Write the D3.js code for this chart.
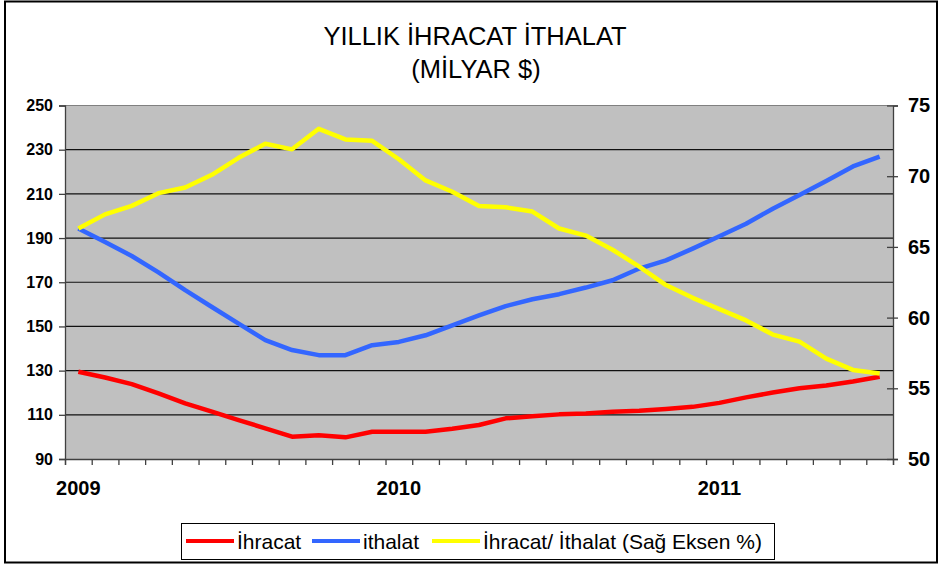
<!DOCTYPE html>
<html>
<head>
<meta charset="utf-8">
<script src="https://cdn.jsdelivr.net/npm/d3@7"></script>
<style>
    body { margin: 0; background: #fff; }
    text { font-family: "Liberation Sans", Arial, sans-serif; }
</style>
</head>
<body>
<div id="chart-area"></div>
<script>

// months Jan 2009 .. Jul 2011
let months = [];
for (let y = 2009; y <= 2011; y++) {
    for (let m = 1; m <= 12; m++) {
        if (y === 2011 && m > 7) break;
        months.push(y + "-" + (m < 10 ? "0" + m : m));
    }
}

let yearLabels = ["2009", "2010", "2011"];
let leftTicks = [90, 110, 130, 150, 170, 190, 210, 230, 250];
let rightTicks = [50, 55, 60, 65, 70, 75];

let ihracat = [129.5, 126.9, 123.9, 119.7, 115.2, 111.4, 107.6, 103.9, 100.1, 100.8, 99.8,
    102.3, 102.3, 102.3, 103.7, 105.4, 108.4, 109.4, 110.2, 110.6, 111.4, 111.8, 112.6,
    113.6, 115.4, 117.9, 120.1, 122.0, 123.3, 125.1, 127.2];

let ithalat = [194.3, 188.2, 181.9, 174.5, 166.4, 158.8, 151.3, 143.8, 139.3, 137.0, 137.0,
    141.5, 143.0, 146.0, 150.5, 155.0, 159.2, 162.3, 164.6, 167.6, 170.9, 176.2, 179.9,
    185.2, 190.8, 196.5, 203.3, 209.5, 215.8, 222.4, 226.9];

let oran = [66.3, 67.3, 67.9, 68.8, 69.2, 70.1, 71.3, 72.3, 71.9, 73.35, 72.6, 72.5, 71.2,
    69.7, 68.9, 67.9, 67.8, 67.5, 66.3, 65.8, 64.8, 63.6, 62.3, 61.4, 60.6, 59.8, 58.8,
    58.3, 57.1, 56.3, 56.05];

let legendNames = ["İhracat", "ithalat", "İhracat/ İthalat (Sağ Eksen %)"];
let colors = ["#ff0000", "#3366ff", "#ffff00"];


class TradeChart {

    constructor(parentElement) {
        this.parentElement = parentElement;
        this.initVis();
    }

    initVis() {
        let vis = this;
        vis.totalWidth = 941;
        vis.totalHeight = 566;
        vis.margin = {top: 105.5, right: 48, bottom: 107, left: 65};
        vis.width = vis.totalWidth - vis.margin.left - vis.margin.right;
        vis.height = vis.totalHeight - vis.margin.top - vis.margin.bottom;

        vis.root = d3.select("#" + vis.parentElement).append("svg")
            .attr("width", vis.totalWidth)
            .attr("height", vis.totalHeight);

        // outer frame
        vis.root.append("rect")
            .attr("x", 5).attr("y", 1.5)
            .attr("width", 932).attr("height", 561)
            .attr("fill", "#fff")
            .attr("stroke", "#000")
            .attr("stroke-width", 2);

        vis.svg = vis.root.append("g")
            .attr("transform", `translate(${vis.margin.left}, ${vis.margin.top})`);

        vis.xScale = d3.scaleBand().domain(months).range([0, vis.width]);
        vis.xIndex = d3.scaleLinear().domain([0, months.length]).range([0, vis.width]);
        vis.yLeft = d3.scaleLinear().domain([90, 250]).range([vis.height, 0]);
        vis.yRight = d3.scaleLinear().domain([50, 75]).range([vis.height, 0]);

        this.updateVis();
    }

    updateVis() {
        let vis = this;

        vis.svg.append("rect")
            .attr("width", vis.width)
            .attr("height", vis.height)
            .attr("fill", "#c0c0c0");

        // gridlines
        vis.svg.selectAll(".grid")
            .data(leftTicks.slice(1))
            .enter().append("line")
            .attr("class", "grid")
            .attr("x1", 0).attr("x2", vis.width)
            .attr("y1", d => vis.yLeft(d)).attr("y2", d => vis.yLeft(d))
            .attr("stroke", d => d === 250 ? "#808080" : "#111")
            .attr("stroke-width", 1.2);

        // axes
        let left = vis.svg.append("g").attr("class", "axis")
            .call(d3.axisLeft(vis.yLeft).tickValues(leftTicks).tickSize(6).tickPadding(6));
        left.selectAll("text").attr("font-size", 16).attr("font-weight", "bold");

        let right = vis.svg.append("g").attr("class", "axis")
            .attr("transform", `translate(${vis.width}, 0)`)
            .call(d3.axisRight(vis.yRight).tickValues(rightTicks).tickSize(5).tickPadding(10));
        right.selectAll(".tick line").attr("x1", -6);
        right.selectAll("text").attr("font-size", 20).attr("font-weight", "bold");

        let bottom = vis.svg.append("g").attr("class", "axis")
            .attr("transform", `translate(0, ${vis.height})`)
            .call(d3.axisBottom(vis.xIndex).tickValues(d3.range(months.length + 1))
                .tickSize(6).tickFormat(""));

        let labels = vis.svg.append("g").attr("class", "axis")
            .attr("transform", `translate(0, ${vis.height})`)
            .call(d3.axisBottom(vis.xScale)
                .tickValues(yearLabels.map(y => y + "-01"))
                .tickSize(0).tickPadding(22)
                .tickFormat(d => d.slice(0, 4)));
        labels.select(".domain").remove();
        labels.selectAll("text").attr("font-size", 20).attr("font-weight", "bold");

        vis.svg.selectAll(".axis path, .axis line").attr("stroke", "#404040").attr("stroke-width", 1.3);
        vis.svg.selectAll(".axis text").attr("fill", "#000");

        // lines
        let xPos = (d, i) => vis.xScale(months[i]) + vis.xScale.bandwidth() / 2;
        let lineLeft = d3.line().x(xPos).y(d => vis.yLeft(d));
        let lineRight = d3.line().x(xPos).y(d => vis.yRight(d));

        let series = [
            {values: ihracat, gen: lineLeft, color: colors[0]},
            {values: ithalat, gen: lineLeft, color: colors[1]},
            {values: oran, gen: lineRight, color: colors[2]}
        ];

        vis.svg.selectAll(".series")
            .data(series)
            .enter().append("path")
            .attr("class", "series")
            .attr("d", d => d.gen(d.values))
            .attr("fill", "none")
            .attr("stroke", d => d.color)
            .attr("stroke-width", 4.5)
            .attr("stroke-linejoin", "round");

        // title
        vis.root.append("text")
            .attr("x", 475).attr("y", 45)
            .attr("text-anchor", "middle")
            .attr("font-size", 25.5)
            .text("YILLIK İHRACAT İTHALAT");
        vis.root.append("text")
            .attr("x", 476).attr("y", 78)
            .attr("text-anchor", "middle")
            .attr("font-size", 25.5)
            .text("(MİLYAR $)");

        // legend
        let legend = vis.root.append("g");
        legend.append("rect")
            .attr("x", 181.5).attr("y", 523.5)
            .attr("width", 593).attr("height", 36)
            .attr("fill", "#fff")
            .attr("stroke", "#000");

        let legendX = [186, 312, 432];
        legendNames.forEach((name, i) => {
            legend.append("line")
                .attr("x1", legendX[i]).attr("x2", legendX[i] + 48)
                .attr("y1", 541).attr("y2", 541)
                .attr("stroke", colors[i])
                .attr("stroke-width", 4);
            legend.append("text")
                .attr("x", legendX[i] + 51).attr("y", 549)
                .attr("font-size", 21)
                .text(name);
        });
    }
}

new TradeChart("chart-area");

</script>
</body>
</html>
